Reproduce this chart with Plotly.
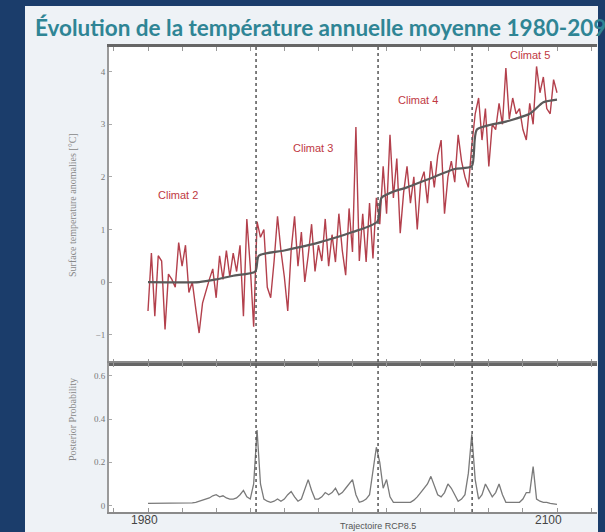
import plotly.graph_objects as go
from plotly.subplots import make_subplots

# ---------------- data ----------------
years = list(range(1980, 2101))

temperature = [
    -0.55, 0.55, -0.65, 0.50, 0.40, -0.90, 0.15, 0.05, -0.10, 0.75,
    0.30, 0.70, -0.20, 0.00, -0.50, -0.97, -0.40, -0.15, 0.05, 0.25,
    -0.30, 0.50, 0.05, 0.60, 0.10, 0.55, 0.20, 0.70, -0.65, 1.20,
    0.30, -0.85, 1.15, 0.85, 1.00, -0.10, -0.30, 0.40, 1.25, 0.60,
    0.10, -0.55, 0.60, 1.25, 0.30, 0.95, 0.00, 0.50, 1.10, 0.20,
    0.70, 0.40, 1.20, 0.30, 0.90, 0.38, 1.30, 0.60, 0.13, 1.40,
    0.57, 2.95, 0.40, 1.30, 0.38, 1.50, 0.45, 1.60, 1.10, 2.20,
    1.30, 2.80, 1.60, 2.35, 0.93, 1.70, 2.20, 1.50, 2.00, 1.00,
    1.90, 2.10, 1.50, 2.30, 1.80, 2.40, 2.70, 1.30, 2.00, 2.30,
    1.90, 2.80, 2.30, 2.00, 1.80, 2.60, 3.20, 3.50, 2.70, 3.30,
    2.20, 3.00, 2.90, 3.40, 3.00, 4.07, 3.10, 3.50, 3.20, 3.30,
    2.90, 2.70, 3.40, 3.00, 4.10, 3.60, 3.90, 3.30, 3.20, 3.85,
    3.60,
]

trend_years = [1980, 1995, 2000, 2005, 2011.5, 2012.5, 2020, 2030, 2040, 2047.3,
               2048.5, 2052, 2056, 2062, 2070, 2075, 2076.5, 2085, 2092, 2096, 2100]
trend_values = [0.0, 0.0, 0.05, 0.12, 0.2, 0.5, 0.6, 0.75, 0.95, 1.15,
                1.6, 1.72, 1.8, 1.95, 2.15, 2.2, 2.9, 3.05, 3.2, 3.42, 3.47]

probability = [
    0.010, 0.010, 0.010, 0.010, 0.010, 0.010, 0.010, 0.010, 0.010, 0.010,
    0.010, 0.010, 0.010, 0.012, 0.015, 0.020, 0.025, 0.030, 0.035, 0.045,
    0.050, 0.040, 0.045, 0.035, 0.030, 0.030, 0.035, 0.050, 0.070, 0.040,
    0.030, 0.100, 0.350, 0.100, 0.030, 0.020, 0.015, 0.020, 0.030, 0.020,
    0.030, 0.050, 0.065, 0.040, 0.020, 0.030, 0.080, 0.120, 0.070, 0.030,
    0.030, 0.040, 0.060, 0.050, 0.060, 0.080, 0.050, 0.060, 0.080, 0.100,
    0.120, 0.050, 0.015, 0.020, 0.030, 0.050, 0.150, 0.270, 0.200, 0.080,
    0.120, 0.040, 0.015, 0.015, 0.015, 0.015, 0.015, 0.015, 0.025, 0.040,
    0.060, 0.080, 0.100, 0.135, 0.090, 0.050, 0.040, 0.060, 0.100, 0.080,
    0.050, 0.020, 0.030, 0.050, 0.150, 0.330, 0.120, 0.030, 0.050, 0.100,
    0.070, 0.040, 0.060, 0.100, 0.050, 0.015, 0.015, 0.015, 0.015, 0.015,
    0.030, 0.060, 0.060, 0.180, 0.030, 0.020, 0.015, 0.015, 0.010, 0.008,
    0.005,
]

change_points = [2011.7, 2047.5, 2075.1]

climate_labels = ["Climat 2", "Climat 3", "Climat 4", "Climat 5"]
climate_label_x = [1988.8, 2028.4, 2059.2, 2092.1]
climate_label_y = [1.65, 2.55, 3.46, 4.32]

temp_ticks = [-1, 0, 1, 2, 3, 4]
temp_ticktext = ["\u22121", "0", "1", "2", "3", "4"]
prob_ticks = [0, 0.2, 0.4, 0.6]
prob_ticktext = ["0", "0.2", "0.4", "0.6"]
x_label_text = ["1980", "2100"]
x_label_pos = [1979.0, 2097.4]

title_text = "Évolution de la température annuelle moyenne 1980-2099"
upper_ytitle = "Surface temperature anomalies [°C]"
lower_ytitle = "Posterior Probability"
footer_text = "Trajectoire RCP8.5"

# ---------------- figure ----------------
W, H = 605, 532
L, R, T, B = 109, 8, 47, 20
PW, PH = W - L - R, H - T - B

def px_x(p):
    return (p - L) / PW

def px_y(p):
    return (H - B - p) / PH

lower_frac = (512 - 363) / PH

fig = make_subplots(rows=2, cols=1, shared_xaxes=True, vertical_spacing=0,
                    row_heights=[1 - lower_frac, lower_frac])

fig.add_trace(go.Scatter(x=years, y=temperature, mode="lines",
                         line=dict(color="#b3404c", width=1.4),
                         showlegend=False, hoverinfo="skip"), row=1, col=1)
fig.add_trace(go.Scatter(x=trend_years, y=trend_values, mode="lines",
                         line=dict(color="#5a5a5a", width=2.2, shape="spline", smoothing=0.6),
                         showlegend=False, hoverinfo="skip"), row=1, col=1)
fig.add_trace(go.Scatter(x=years, y=probability, mode="lines",
                         line=dict(color="#7a7a7a", width=1.3),
                         showlegend=False, hoverinfo="skip"), row=2, col=1)

xr = [1980 - (148 - L) / 3.408, 2100 + (L + PW - 557) / 3.408]
tick_font = dict(family="Liberation Serif, DejaVu Serif, serif", size=9, color="#777")

common_x = dict(range=xr, showgrid=False, zeroline=False, showline=True,
                ticks="inside", tick0=1980, dtick=10, ticklen=4, tickcolor="#999",
                mirror="ticks", showticklabels=False)
fig.update_xaxes(**common_x, linecolor="#666", linewidth=3, row=1, col=1)
fig.update_xaxes(**common_x, linecolor="#8a8a8a", linewidth=2, row=2, col=1)

fig.update_yaxes(range=[-1.54, 4.47], tickvals=temp_ticks, ticktext=temp_ticktext,
                 showgrid=False, zeroline=False, showline=True, linecolor="#9a9a9a",
                 linewidth=2, ticks="inside", ticklen=3, tickcolor="#aaa",
                 tickfont=tick_font, row=1, col=1)
fig.update_yaxes(range=[-0.03, 0.66], tickvals=prob_ticks, ticktext=prob_ticktext,
                 showgrid=False, zeroline=False, showline=True, linecolor="#9a9a9a",
                 linewidth=2, ticks="inside", ticklen=3, tickcolor="#aaa",
                 tickfont=tick_font, row=2, col=1)

shapes = []
for cp in change_points:
    shapes.append(dict(type="line", xref="x", yref="paper", x0=cp, x1=cp, y0=0, y1=1,
                       line=dict(color="#555", width=1.5, dash="dot")))
# dark blue margins around the light panel
blue = "#1b3d6b"
shapes.append(dict(type="rect", xref="paper", yref="paper", x0=px_x(-5), x1=px_x(25),
                   y0=px_y(H + 5), y1=px_y(-5), fillcolor=blue, line_width=0, layer="above"))
shapes.append(dict(type="rect", xref="paper", yref="paper", x0=px_x(-5), x1=px_x(W + 5),
                   y0=px_y(6), y1=px_y(-5), fillcolor=blue, line_width=0, layer="above"))
shapes.append(dict(type="rect", xref="paper", yref="paper", x0=px_x(598), x1=px_x(W + 5),
                   y0=px_y(H + 5), y1=px_y(-5), fillcolor=blue, line_width=0, layer="above"))

annotations = []
for txt, ax, ay in zip(climate_labels, climate_label_x, climate_label_y):
    annotations.append(dict(text=txt, x=ax, y=ay, xref="x", yref="y", showarrow=False,
                            font=dict(family="Liberation Sans, Arial, sans-serif", size=11,
                                      color="#c0393f")))
for txt, ax in zip(x_label_text, x_label_pos):
    annotations.append(dict(text=txt, x=ax, y=px_y(520), xref="x2", yref="paper",
                            showarrow=False, yanchor="middle",
                            font=dict(family="Liberation Sans, Arial, sans-serif", size=12,
                                      color="#444")))
annotations.append(dict(text=footer_text, x=px_x(378), y=px_y(526), xref="paper", yref="paper",
                        showarrow=False, yanchor="middle",
                        font=dict(family="Liberation Sans, Arial, sans-serif", size=9,
                                  color="#555")))
annotations.append(dict(text=upper_ytitle, x=px_x(72), y=px_y(205), xref="paper", yref="paper",
                        showarrow=False, textangle=-90, xanchor="center", yanchor="middle",
                        font=dict(family="Liberation Serif, DejaVu Serif, serif", size=10,
                                  color="#888")))
annotations.append(dict(text=lower_ytitle, x=px_x(72), y=px_y(420), xref="paper", yref="paper",
                        showarrow=False, textangle=-90, xanchor="center", yanchor="middle",
                        font=dict(family="Liberation Serif, DejaVu Serif, serif", size=10,
                                  color="#888")))

fig.update_layout(
    width=W, height=H,
    margin=dict(l=L, r=R, t=T, b=B, pad=0),
    paper_bgcolor="#eef2f6",
    plot_bgcolor="#ffffff",
    title=dict(text=title_text, x=35 / W, xanchor="left", y=1 - 28 / H, yanchor="middle",
               font=dict(family="Lato, sans-serif", size=22.5, color="#2f8595", weight="bold")),
    shapes=shapes,
    annotations=annotations,
    showlegend=False,
)

fig.write_html("out.html", config={"displayModeBar": False},
               post_script="document.body.style.margin='0';document.body.style.overflow='hidden';")
